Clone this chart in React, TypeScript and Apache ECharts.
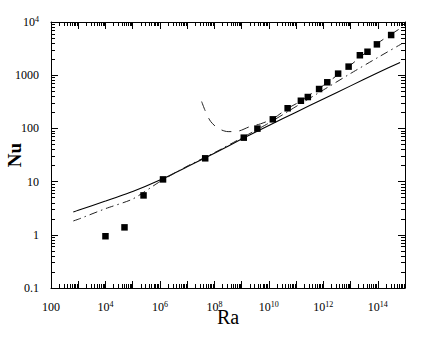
import React, { useEffect, useRef } from "react";
import * as echarts from "echarts";

// Measured data (squares)
const raMeasured = [1e4, 5e4, 2.5e5, 1.3e6, 4.6e7, 1.2e9, 3.8e9, 1.4e10, 4.9e10, 1.5e11, 2.7e11, 7e11, 1.4e12, 3.5e12, 8.5e12, 2.2e13, 4.2e13, 9.3e13, 3.1e14];
const nuMeasured = [0.94, 1.38, 5.5, 11, 27.4, 67, 99, 148, 239, 331, 389, 550, 736, 1070, 1450, 2370, 2760, 3800, 5690];

// Solid correlation
const raSolid = [660, 1e3, 1e4, 1e5, 1e6, 1e7, 1e8, 1e9, 1e10, 1e11, 1e12, 1e13, 1e14, 6.6e14];
const nuSolid = [2.68, 2.9, 4.3, 6.5, 10.7, 19, 34, 63, 113, 202, 357, 630, 1110, 1740];

// Dash-dot correlation
const raDashDot = [660, 1e3, 1e4, 1e5, 1e6, 1e7, 1e8, 1e9, 1e10, 1e11, 1e12, 1e13, 1e14, 7.6e14];
const nuDashDot = [1.82, 1.96, 3.1, 4.7, 10.0, 19.5, 35, 66, 126, 258, 527, 1076, 2150, 3900];

// Long-dashed curve
const raDashed = [3.4e7, 4.6e7, 7.3e7, 1.4e8, 3.2e8, 7.6e8, 2e9, 5e9, 1.5e10, 5e10, 1e11, 1e12, 1e13, 1e14, 1e15];
const nuDashed = [320, 215, 135, 100, 87, 89, 108, 122, 155, 240, 290, 640, 1550, 4000, 8600];

// Tick labels keyed by exponent
const xTickExps = [2, 4, 6, 8, 10, 12, 14];
const xTickLabels = ["100", "10^4", "10^6", "10^8", "10^10", "10^12", "10^14"];
const yTickExps = [-1, 0, 1, 2, 3, 4];
const yTickLabels = ["0.1", "1", "10", "100", "1000", "10^4"];

const FONT = "'Liberation Serif', 'Times New Roman', serif";

const toRich = (s: string) => {
  const i = s.indexOf("^");
  if (i < 0) return `{b|${s}}`;
  return `{b|${s.slice(0, i)}}{s|${s.slice(i + 1)}}`;
};

const makeFmt = (exps: number[], labels: string[]) => (v: number) => {
  const e = Math.round(Math.log10(v));
  const k = exps.indexOf(e);
  return k < 0 ? "" : toRich(labels[k]);
};

const rich = {
  b: { fontSize: 12, lineHeight: 14, fontFamily: FONT, color: "#000", verticalAlign: "middle" },
  s: { fontSize: 8, lineHeight: 14, fontFamily: FONT, color: "#000", verticalAlign: "top" },
};

const common = {
  type: "log",
  logBase: 10,
  axisLine: { show: true, onZero: false, lineStyle: { color: "#000", width: 1 } },
  axisTick: { show: true, inside: true, length: 7, lineStyle: { color: "#000", width: 1 } },
  minorTick: { show: true, splitNumber: 9, length: 4, lineStyle: { color: "#000", width: 1 } },
  splitLine: { show: false },
  minorSplitLine: { show: false },
};

export default function App() {
  const ref = useRef<HTMLDivElement>(null);
  useEffect(() => {
    const chart = echarts.init(ref.current!, null, { renderer: "svg" });
    const xBase = { ...common, min: 100, max: 1e15, interval: 1 };
    const yBase = { ...common, min: 0.1, max: 1e4, interval: 1 };
    chart.setOption({
      animation: false,
      backgroundColor: "#fff",
      textStyle: { fontFamily: FONT, color: "#000" },
      grid: { left: 51, right: 27, top: 22, bottom: 52, containLabel: false, outerBoundsMode: "none" },
      xAxis: [
        {
          ...xBase,
          position: "bottom",
          name: "Ra",
          nameLocation: "middle",
          nameGap: 19,
          nameMoveOverlap: false,
          nameTextStyle: { fontFamily: FONT, fontSize: 20, color: "#000", align: "center", verticalAlign: "top" },
          axisLabel: { show: true, margin: 12, color: "#000", fontFamily: FONT, formatter: makeFmt(xTickExps, xTickLabels), rich },
        },
        { ...xBase, position: "top", axisLabel: { show: false } },
      ],
      yAxis: [
        {
          ...yBase,
          position: "left",
          name: "Nu",
          nameLocation: "middle",
          nameGap: 27,
          nameMoveOverlap: false,
          nameTextStyle: { fontFamily: FONT, fontSize: 19, fontWeight: "bold", color: "#000" },
          axisLabel: { show: true, margin: 12, color: "#000", fontFamily: FONT, formatter: makeFmt(yTickExps, yTickLabels), rich },
        },
        { ...yBase, position: "right", axisLabel: { show: false } },
      ],
      series: [
        {
          type: "line",
          data: raSolid.map((r, i) => [r, nuSolid[i]]),
          symbol: "none",
          smooth: 0.2,
          lineStyle: { color: "#000", width: 1.1, type: "solid" },
        },
        {
          type: "line",
          data: raDashDot.map((r, i) => [r, nuDashDot[i]]),
          symbol: "none",
          smooth: 0.2,
          lineStyle: { color: "#222", width: 1, type: [8, 4, 1.5, 4] },
        },
        {
          type: "line",
          data: raDashed.map((r, i) => [r, nuDashed[i]]),
          symbol: "none",
          smooth: 0.3,
          lineStyle: { color: "#222", width: 1, type: [10, 8] },
        },
        {
          type: "scatter",
          data: raMeasured.map((r, i) => [r, nuMeasured[i]]),
          symbol: "rect",
          symbolSize: 6.5,
          itemStyle: { color: "#000", opacity: 1 },
          z: 5,
        },
      ],
    });
    return () => chart.dispose();
  }, []);
  return (
    <div
      ref={ref}
      style={{ position: "absolute", left: 0, top: 0, width: 432, height: 340, background: "#fff" }}
    />
  );
}
